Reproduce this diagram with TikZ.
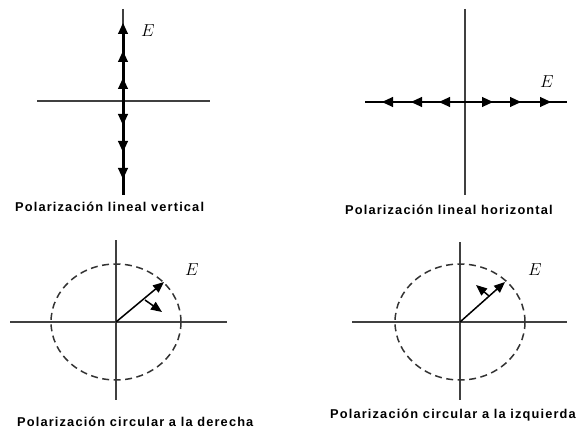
\documentclass[tikz,border=0pt]{standalone}
\usepackage{fontspec}
\newfontfamily\capfont[LetterSpace=9]{Liberation Sans Bold}
\usetikzlibrary{arrows.meta}
\begin{document}
\begin{tikzpicture}[x=1pt,y=-1pt,
  axis/.style={draw=black!75,line width=1.4pt},
  thickvec/.style={draw=black,line width=3pt},
  hvec/.style={draw=black,line width=2pt},
  tip/.style={-{Triangle[length=11pt,width=10pt]},draw=black,line width=1pt},
  vecline/.style={draw=black,line width=1.5pt,-{Triangle[length=11pt,width=9pt]}},
  circ/.style={draw=black!80,line width=1.5pt,dash pattern=on 7pt off 4.5pt},
  caption/.style={anchor=west,inner sep=0pt,font=\capfont\fontsize{12.8}{15}\selectfont},
  elabel/.style={inner sep=0pt,font=\fontsize{18}{21}\selectfont}]
\useasboundingbox (0,0) rectangle (580,430);
% ---------- panel 1: vertical linear ----------
\coordinate (o1) at (123,101);
\draw[axis] (37,101) -- (210,101);
\draw[axis] (123,9) -- (123,195);
\draw[thickvec] (123,28) -- (123,195);
\foreach \y in {23,51,78} \draw[tip] (123,\y+11) -- (123,\y);
\foreach \y in {125,152,179} \draw[tip] (123,\y-11) -- (123,\y);
\node[elabel] (e1) at (148,31) {$E$};
\node[caption] (c1) at (15,207) {Polarización lineal vertical};
% ---------- panel 2: horizontal linear ----------
\coordinate (o2) at (465,102);
\draw[axis] (465,9) -- (465,195);
\draw[hvec] (365,102) -- (567,102);
\foreach \x in {382,411,439} \draw[tip] (\x+11,102) -- (\x,102);
\foreach \x in {493,521,551} \draw[tip] (\x-11,102) -- (\x,102);
\node[elabel] (e2) at (547,82) {$E$};
\node[caption] (c2) at (345,210) {Polarización lineal horizontal};
% ---------- panel 3: right circular ----------
\coordinate (o3) at (116,322);
\coordinate (v3) at (164,282);
\coordinate (s3a) at (145,300);
\coordinate (s3b) at (162,312);
\draw[axis] (10,322) -- (227,322);
\draw[axis] (116,240) -- (116,400);
\draw[circ] (o3) ellipse [x radius=65, y radius=58];
\draw[vecline] (o3) -- (v3);
\draw[vecline] (s3a) -- (s3b);
\node[elabel] (e3) at (192,270) {$E$};
\node[caption] (c3) at (17,422) {Polarización circular a la derecha};
% ---------- panel 4: left circular ----------
\coordinate (o4) at (460,322);
\coordinate (v4) at (505,282);
\coordinate (s4a) at (489,296);
\coordinate (s4b) at (476,285);
\draw[axis] (352,322) -- (567,322);
\draw[axis] (460,242) -- (460,400);
\draw[circ] (o4) ellipse [x radius=65, y radius=58];
\draw[vecline] (o4) -- (v4);
\draw[vecline] (s4a) -- (s4b);
\node[elabel] (e4) at (535,270) {$E$};
\node[caption] (c4) at (330,415) {Polarización circular a la izquierda};
\end{tikzpicture}
\end{document}
